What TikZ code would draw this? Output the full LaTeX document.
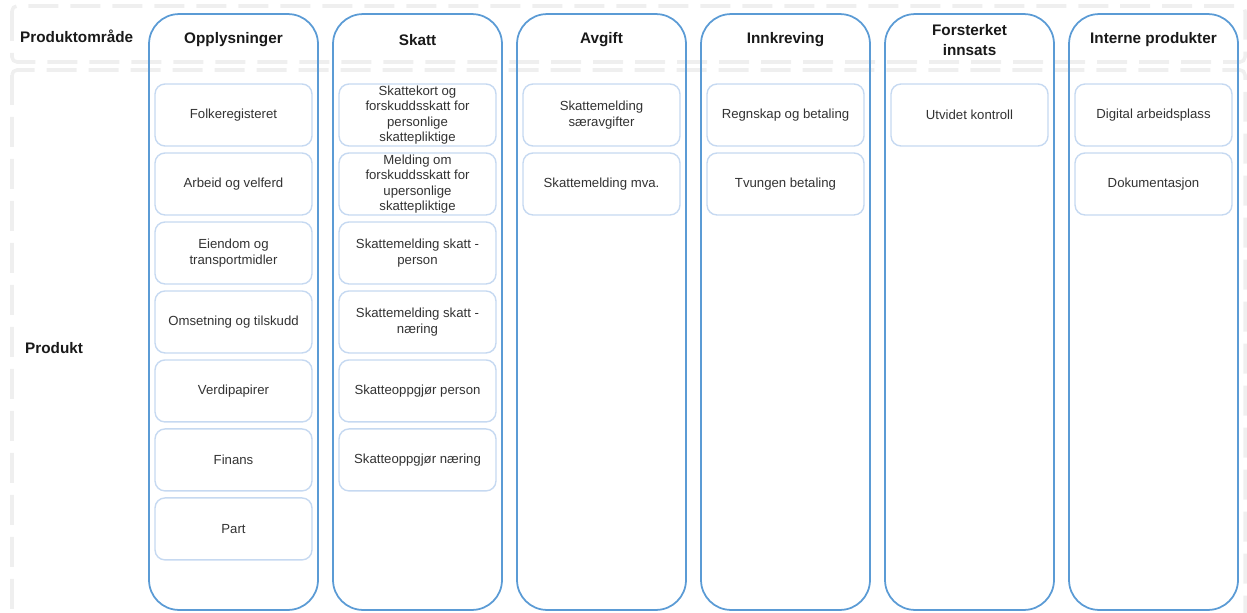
\documentclass[tikz,border=0pt]{standalone}
\usepackage{fontspec}
\setmainfont{Liberation Sans}
\usetikzlibrary{positioning}

\definecolor{colblue}{HTML}{5B9BD5}
\definecolor{boxblue}{HTML}{C6D9F1}
\definecolor{zonegray}{HTML}{EFEFEF}
\definecolor{textgray}{HTML}{333333}

\begin{document}
\begin{tikzpicture}[
    x=0.02cm, y=-0.02cm,
    zone/.style={draw=zonegray, line width=2pt, rounded corners=0.1cm,
                 dash pattern=on 0.6cm off 0.24cm},
    column/.style={draw=colblue, line width=1pt, rounded corners=0.6cm,
                   minimum width=3.38cm, minimum height=11.92cm,
                   inner sep=0pt, outer sep=0pt},
    colhead/.style={font=\fontsize{8.7}{11.3}\selectfont\bfseries,
                    text=black!90, align=center},
    rowhead/.style={font=\fontsize{8.7}{11.3}\selectfont\bfseries,
                    text=black!90, anchor=west},
    produkt/.style={draw=boxblue, line width=0.8pt, fill=white,
                    rounded corners=0.2cm,
                    minimum width=3.14cm, minimum height=1.24cm,
                    inner sep=0pt, outer sep=0pt, align=center,
                    text=textgray, font=\fontsize{7.5}{8.8}\selectfont},
    node distance=0.14cm,
]

\clip (0,0) rectangle (1247,612);

% dashed zones
\draw[zone] (12,6) rectangle (1245,62);
\draw[zone] (12,70) rectangle (1245,660);

\node[rowhead] (produktomrade) at (14,36) {Produktområde};
\node[rowhead] (produktrow) at (19,348) {Produkt};

% columns
\node[column] (opplysninger) at (233.5,312) {};
\node[column] (skatt) at (417.5,312) {};
\node[column] (avgift) at (601.5,312) {};
\node[column] (innkreving) at (785.5,312) {};
\node[column] (forsterket) at (969.5,312) {};
\node[column] (interne) at (1153.5,312) {};

\node[colhead] (opplysninger-h) at (233.5,40) {Opplysninger};
\node[colhead] (skatt-h) at (417.5,40) {Skatt};
\node[colhead] (avgift-h) at (601.5,40) {Avgift};
\node[colhead] (innkreving-h) at (785.5,40) {Innkreving};
\node[colhead] (forsterket-h) at (969.5,40) {Forsterket\\innsats};
\node[colhead] (interne-h) at (1153.5,40) {Interne produkter};

% Opplysninger
\node[produkt] (folkeregisteret) at (233.5,115) {Folkeregisteret};
\node[produkt, below=of folkeregisteret] (arbeid) {Arbeid og velferd};
\node[produkt, below=of arbeid] (eiendom) {Eiendom og\\transportmidler};
\node[produkt, below=of eiendom] (omsetning) {Omsetning og tilskudd};
\node[produkt, below=of omsetning] (verdipapirer) {Verdipapirer};
\node[produkt, below=of verdipapirer] (finans) {Finans};
\node[produkt, below=of finans] (part) {Part};

% Skatt
\node[produkt] (skattekort) at (417.5,115)
    {Skattekort og\\forskuddsskatt for\\personlige\\skattepliktige};
\node[produkt, below=of skattekort] (melding)
    {Melding om\\forskuddsskatt for\\upersonlige\\skattepliktige};
\node[produkt, below=of melding] (sm-person) {Skattemelding skatt -\\person};
\node[produkt, below=of sm-person] (sm-naering) {Skattemelding skatt -\\næring};
\node[produkt, below=of sm-naering] (so-person) {Skatteoppgjør person};
\node[produkt, below=of so-person] (so-naering) {Skatteoppgjør næring};

% Avgift
\node[produkt] (saeravgifter) at (601.5,115) {Skattemelding\\særavgifter};
\node[produkt, below=of saeravgifter] (mva) {Skattemelding mva.};

% Innkreving
\node[produkt] (regnskap) at (785.5,115) {Regnskap og betaling};
\node[produkt, below=of regnskap] (tvungen) {Tvungen betaling};

% Forsterket innsats
\node[produkt] (kontroll) at (969.5,115) {Utvidet kontroll};

% Interne produkter
\node[produkt] (arbeidsplass) at (1153.5,115) {Digital arbeidsplass};
\node[produkt, below=of arbeidsplass] (dokumentasjon) {Dokumentasjon};

\end{tikzpicture}
\end{document}
